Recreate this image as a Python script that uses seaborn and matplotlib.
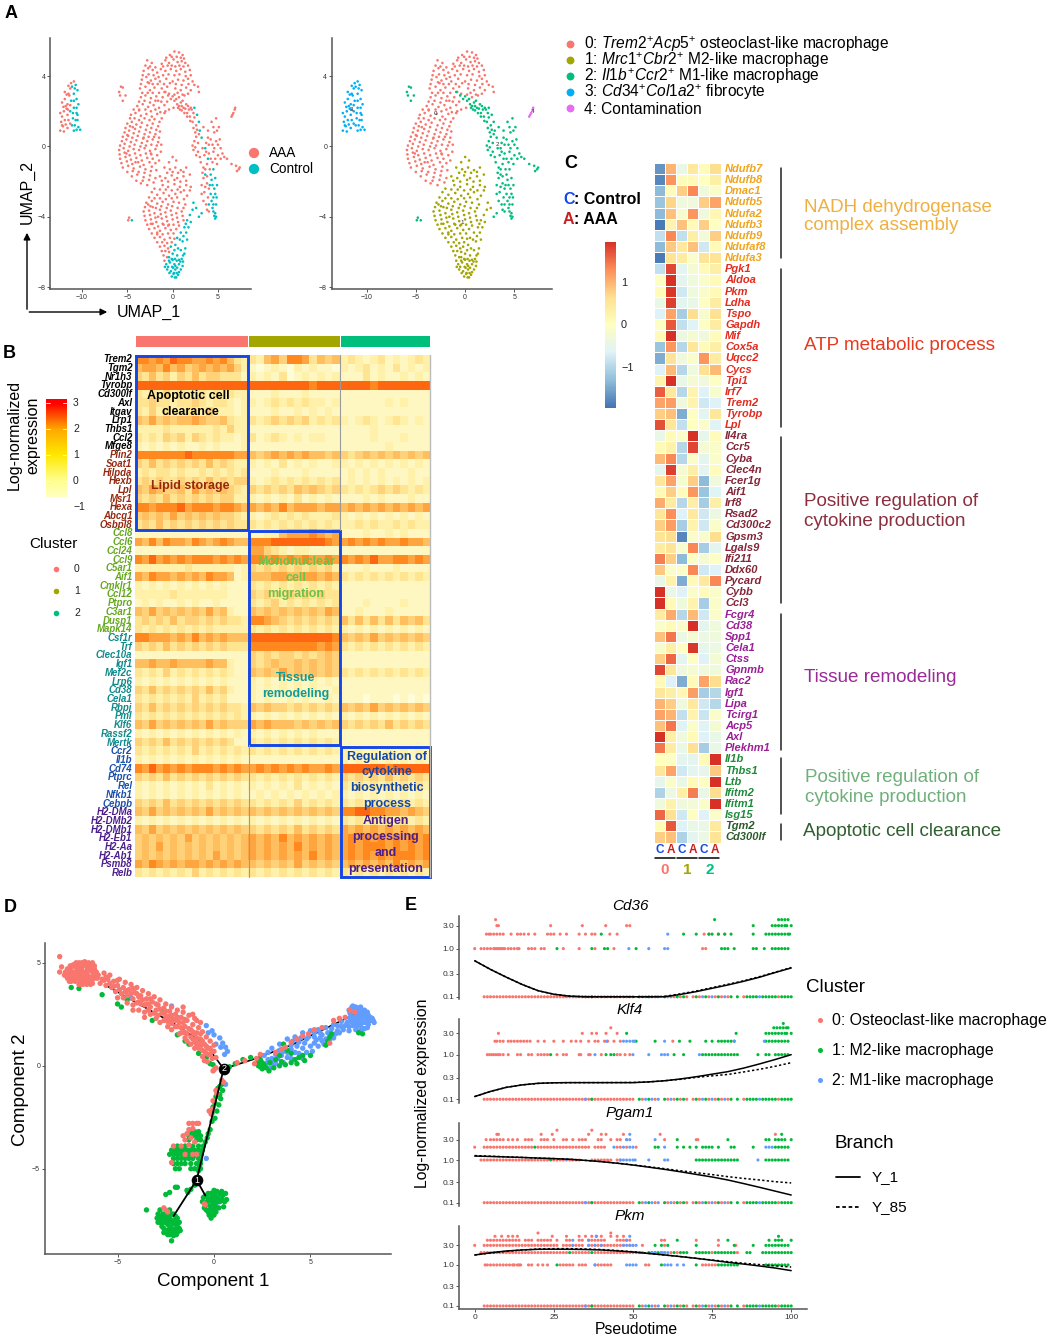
import numpy as np
import pandas as pd
import matplotlib
matplotlib.use("Agg")
import matplotlib.pyplot as plt
import seaborn as sns
from matplotlib.colors import LinearSegmentedColormap

# panel A
umap_c0 = [(-0.3,5.2),(0.2,5.4),(0.7,5.35),(1.1,5.2),(-1.2,4.7),(-0.8,4.9),(-0.4,4.75),(0.1,4.95),(0.55,4.8),(1.0,4.85),(1.4,4.75),(-2.8,4.9),(-2.3,4.75),
    (-3.2,4.3),(-2.7,4.45),(-2.2,4.35),(-1.7,4.2),(-1.3,4.4),(-0.8,4.3),(-0.2,4.4),(0.4,4.3),(0.9,4.4),(1.4,4.25),(1.9,4.35),
    (-3.4,3.8),(-2.9,3.95),(-2.4,3.75),(-1.9,3.85),(-1.4,3.7),(-0.7,3.85),(0.0,3.7),(0.6,3.8),(1.2,3.75),(1.7,3.85),(2.2,3.7),
    (-3.6,3.3),(-3.0,3.4),(-2.5,3.2),(-2.0,3.35),(-1.2,3.3),(-0.6,3.4),(0.3,3.3),(0.9,3.2),(1.5,3.35),(2.0,3.2),(2.8,3.4),(2.9,3.1),
    (-3.5,2.8),(-3.0,2.9),(-2.4,2.75),(-1.8,2.85),(-1.1,2.8),(-0.4,3.0),(0.2,2.95),(-3.9,2.3),(-3.3,2.4),(-2.7,2.25),(-2.1,2.35),(-1.5,2.2),(-0.9,2.35),(-0.4,2.1),(0.1,2.2),
    (-4.6,1.8),(-4.1,1.9),(-3.5,1.75),(-2.9,1.85),(-2.3,1.7),(-1.7,1.85),(-1.2,1.6),(-5,1.3),(-4.5,1.4),(-4,1.25),(-3.4,1.35),(-2.8,1.2),(-2.2,1.3),(-1.6,1.15),
    (-5.3,.8),(-4.8,.9),(-4.3,.75),(-3.7,.85),(-3.1,.7),(-2.5,.8),(-1.9,.7),(-1.4,.85),(-5.6,.3),(-5.1,.4),(-4.6,.25),(-4,.35),(-3.4,.2),(-2.8,.3),(-2.2,.4),(-1.6,.25),
    (-5.9,-.2),(-5.4,-.1),(-4.9,-.25),(-4.3,-.15),(-3.7,-.2),(-3.1,-.1),(-2.5,-.25),(-1.9,-.15),(-1.3,-.3),(-5.8,-.7),(-5.2,-.6),(-4.6,-.75),(-4,-.65),(-3.4,-.8),(-2.8,-.65),(-2.2,-.7),(-1.5,-.8),
    (-5.5,-1.2),(-4.9,-1.1),(-4.3,-1.25),(-3.6,-1.15),(-3,-1.3),(-2.3,-1.15),(-4.5,-1.7),(-3.9,-1.6),(-3.2,-1.75),(-2.5,-1.65),(-1.9,-1.8),(-3.5,-2.1),(-2.8,-2.2),(-2.1,-2.05),
    (-5.1,-.4),(-4.1,-.9),(-3.2,.5),(-4.4,1.1),(-3.7,2.1),(-2.6,3.6),(-1.6,2.6),(-0.9,1.9),(0.7,2.8),(1.3,2.9),(-4.9,.6),(-2.4,-.4),
    (-.7,5.05),(-.1,5.1),(.45,5.1),(.9,5.05),(1.25,5.0),(-3,4.6),(-2.5,4.55),(-1.9,4.5),(-1.05,4.55),(-.55,4.6),(-.1,4.6),(.3,4.55),(.75,4.6),(1.2,4.55),(1.7,4.6),
    (-3.3,4.05),(-2.65,4.1),(-2.1,4.05),(-1.55,3.95),(-1.05,4.05),(-.45,4.1),(.2,4.05),(.75,4.1),(1.45,4),(2.0,4.05),(-3.5,3.55),(-2.75,3.65),(-2.2,3.55),(-1.65,3.55),(-.95,3.55),(-.3,3.6),(.35,3.55),(1.0,3.5),(1.75,3.55),(2.4,3.5),
    (-3.35,3.05),(-2.75,3.05),(-2.2,3.05),(-1.5,3.05),(-.8,3.1),(.55,3.05),(1.1,2.95),(1.7,3.0),(-3.7,2.55),(-3.1,2.6),(-2.5,2.5),(-1.9,2.6),(-1.25,2.55),(-.6,2.55),
    (-4.3,2.1),(-3.7,2.05),(-3.0,2.1),(-2.4,2.0),(-1.9,2.1),(-1.35,1.95),(-.8,2.0),(-4.7,1.6),(-4.2,1.6),(-3.7,1.5),(-3.1,1.6),(-2.55,1.5),(-2,1.55),(-1.45,1.4),
    (-5.2,1.05),(-4.7,1.15),(-4.15,1),(-3.55,1.1),(-2.95,.95),(-2.35,1.05),(-1.8,.95),(-5.5,.55),(-5,.65),(-4.45,.5),(-3.85,.6),(-3.25,.45),(-2.65,.55),(-2.05,.55),(-1.5,.5),
    (-5.8,.05),(-5.3,.15),(-4.75,0),(-4.2,.1),(-3.55,0),(-2.95,.05),(-2.35,.1),(-1.75,.05),(-1.25,.1),(-5.85,-.45),(-5.3,-.35),(-4.75,-.5),(-4.15,-.4),(-3.55,-.5),(-2.95,-.4),(-2.35,-.45),(-1.7,-.5),
    (-5.65,-.95),(-5.05,-.85),(-4.45,-1),(-3.8,-.9),(-3.2,-1.05),(-2.55,-.9),(-1.9,-.95),(-5,-1.45),(-4.4,-1.4),(-3.75,-1.45),(-3.1,-1.5),(-2.4,-1.4),(-1.8,-1.35),(-4,-1.95),(-3.3,-1.95),(-2.6,-1.9)]
umap_c1 = [(0,-.6),(.4,-.8),(-.4,-.9),(-.9,-1.2),(-.3,-1.3),(.3,-1.2),(.9,-1.35),(1.5,-1.2),(-1.4,-1.7),(-.8,-1.8),(-.1,-1.65),(.5,-1.8),(1.2,-1.7),(1.9,-1.6),
    (-1.1,-2.2),(-.5,-2.3),(.2,-2.15),(.8,-2.3),(1.5,-2.2),(2,-2.3),(-2.3,-2.6),(-1.7,-2.75),(-1,-2.65),(-.4,-2.8),(.3,-2.7),(.9,-2.6),(1.6,-2.8),
    (-2.9,-3.2),(-2.3,-3.1),(-1.7,-3.25),(-1.1,-3.15),(-.5,-3.3),(.1,-3.15),(.7,-3.2),(1.4,-3.3),(-3.2,-3.7),(-2.6,-3.65),(-2,-3.8),(-1.4,-3.6),(-.8,-3.75),(-.2,-3.65),(.4,-3.8),(1,-3.7),
    (-3,-4.2),(-2.4,-4.15),(-1.8,-4.3),(-1.2,-4.1),(-.6,-4.25),(0,-4.15),(.6,-4.3),(1.2,-4.2),(-2.6,-4.7),(-2,-4.65),(-1.4,-4.8),(-.8,-4.65),(-.2,-4.75),(.4,-4.7),
    (-2,-5.2),(-1.4,-5.15),(-.9,-5.3),(-.3,-5.2),(.2,-5.25),(-1.4,-5.7),(-.9,-5.65),(-.5,-5.8),(-1,-6.2),(-.6,-6.3),(-2.7,-3.3),(-2.2,-3.45),(-1.6,-4.0),(-1.0,-4.45),(-.4,-4.45),(-1.7,-5.0),(-2.4,-4.4),
    (-.6,-1.5),(0,-1.45),(.6,-1.5),(1.2,-1.45),(-1.2,-1.95),(-.5,-2),(.2,-1.9),(.85,-2),(1.5,-1.95),(-2,-2.4),(-1.4,-2.45),(-.75,-2.45),(-.1,-2.5),(.55,-2.45),(1.25,-2.5),(1.9,-2.5),
    (-2.6,-2.9),(-2,-2.95),(-1.4,-2.95),(-.75,-3),(-.1,-2.95),(.5,-2.9),(1.25,-3),(-3.05,-3.45),(-2.45,-3.4),(-1.85,-3.5),(-1.25,-3.4),(-.65,-3.5),(-.05,-3.4),(.55,-3.5),(1.2,-3.5),
    (-3.1,-3.95),(-2.5,-3.9),(-1.9,-4.05),(-1.3,-3.85),(-.7,-4),(-.1,-3.9),(.5,-4.05),(1.1,-3.95),(-2.8,-4.45),(-2.2,-4.4),(-1.6,-4.55),(-1.1,-4.4),(-.5,-4.5),(.1,-4.45),(.7,-4.5),
    (-2.3,-4.95),(-1.7,-4.9),(-1.1,-5),(-.5,-4.95),(.1,-4.95),(-1.7,-5.45),(-1.15,-5.45),(-.6,-5.5),(-.1,-5.45),(-1.2,-5.95),(-.8,-5.95),(-.4,-6),(-.9,-6.5)]
umap_c1_ctrl = [(1.6,-4.2),(1.9,-3.9),(1.3,-4.6),(.9,-4.9),(1.5,-4.9),(.5,-5.2),(1.1,-5.4),(1.6,-5.3),(-.2,-5.7),(.3,-5.6),(.9,-5.9),(1.4,-5.8),(-.4,-6.3),(0,-6.1),(.5,-6.2),(1,-6.4),(1.3,-6.1),
    (-.7,-6.7),(-.3,-6.6),(.2,-6.7),(.7,-6.7),(1.1,-6.8),(-.6,-7.0),(-.2,-7.1),(.3,-7.0),(.7,-7.15),(-.1,-7.4),(.4,-7.45),(.6,-7.3),(2.3,-3.2),(2.6,-3.5),(0,-6.45),(.45,-6.5),(.85,-6.55),(-.05,-6.85),(.5,-6.9),(.1,-7.25),
    (.2,-5.9),(.6,-5.8),(1.15,-6.2),(-.5,-6.85),(-.1,-6.4),(.25,-6.4),(.7,-6.45),(1.15,-6.55),(-.4,-6.5),(.05,-6.9),(.3,-6.8),(.9,-7),(.45,-7.2),(.15,-7.2),(-.35,-7.2),(.25,-7.45),(-.85,-6.85),(1.45,-4.4),(1.75,-4.6),(2,-4.3),(2.2,-3.6),(1.2,-5.1),(.8,-5.3)]
umap_c2 = [(-.9,3.1),(-.5,2.9),(-.2,2.7),(.2,2.6),(.5,2.4),(.9,2.5),(1.2,2.2),(1.5,2.4),(1.8,2.1),(.8,2.1),(1.3,1.9),(1.9,1.7),(2.3,1.9),(2.2,1.4),(2.6,1.2),(2.5,.8),(2.9,.7),(2.4,.3),(2.8,.2),(2.3,-.2),(2.8,-.3),(3.3,-.1),
    (3.9,.9),(4.3,1.4),(4.8,1.6),(5.1,1.1),(4.6,.8),(3.4,1.1),(4.2,.4),(4.8,.3),(3.7,.2),(5.2,.4),(3.5,-.5),(4,-.4),(4.5,-.3),(5,-.5),(5.5,-.4),(6,-.7),(6.5,-1),(7,-1.1),(7.3,-1.3),(7.4,-1.2),(7.1,-1.4),(3.8,-1),(4.4,-.9),(4.9,-1),
    (-5.9,3.1),(-5.7,3.4),(-5.5,3.35),(-5.8,2.9),(-5.5,2.6),(-5.2,2.9),(3.4,-1.8),(3.8,-2.1),(3.5,-2.6),(3.9,-2.9),(3.7,-3.3),(3.2,-2.2),(4.0,-3.7),(-4.9,-4.2),(-4.8,-4.05),(1.6,1.9),(2.0,2.2),(1.0,2.3),(3.1,-.9),(4.1,-1.3),
    (0,2.85),(.4,2.7),(.7,2.3),(1.1,2.6),(1.4,2.15),(1.7,2.3),(2.1,2.1),(.6,2.2),(1.0,2.05),(1.6,1.7),(1.95,1.45),(2.4,1.65),(2.3,1.05),(2.7,.95),(2.6,.55),(2.2,.05),(2.5,-.05),(2.6,-.5),(3,-.6),(3.9,.5),(4.5,1.1),(4.9,.9),(4.4,.1),(4,.1),(4.6,-.1),(5,.1),(5.3,-.1),(3.7,-.3),(4.2,-.7),(4.7,-.7),(3.4,-1.2),(3.6,-1.3),(5.3,-.7),(5.7,-.6),(3.2,-2.7),(3.4,-3.1),(3.6,-2.3),(3.8,-1.7),(4.0,-2.4),(3.8,-3.6),(3.3,-1.5)]
umap_c2_ctrl = [(2.4,2.2),(2.7,1.8),(2.9,1.4),(3.0,.9),(3.2,.5),(3.6,-.1),(3.9,-.7),(4.5,-1.3),(4.7,-1.8),(4.2,-1.6),(3.6,-1.6),(4.4,-2.2),(4.9,-2.2),(4.2,-2.7),(4.7,-2.7),(4.3,-3.1),(4.8,-3.3),(4.4,-3.5),(4.7,-3.8),(4.6,-3.95),(4.8,-4),(3.2,-3.8),(2.9,-4),(-4.5,-4.2),
    (4.3,-1.9),(4.6,-2.4),(4.0,-3.3),(4.5,-2.9),(4.5,-3.3),(4.1,-2.2),(4.85,-2.9),(4.5,-3.7),(4.7,-4.1)]
umap_c3 = [(-12.4,.9),(-12,.85),(-11.6,1.05),(-12.3,1.4),(-11.9,1.5),(-12.4,1.9),(-12,2),(-11.6,1.8),(-12.2,2.5),(-11.9,2.7),(-11.6,2.4),(-11.9,3.1),(-11.5,3),(-11.5,3.45),(-11.2,3.6),(-10.9,3.7),(-11.3,1.3),(-11.4,2.9),(-12.1,1.15),(-11.7,2.15),
    (-12.2,1.2),(-11.8,1.25),(-12.2,1.7),(-11.8,2.3),(-12.05,2.25),(-11.7,2.95),(-11.5,1.5),(-11.55,2.1),(-11.3,2.35),(-11.3,3.3)]
umap_c3_ctrl = [(-11.1,3.4),(-10.7,3.5),(-10.5,3.2),(-10.9,3),(-10.6,2.7),(-11.2,2.6),(-10.4,2.4),(-10.9,2.2),(-11.3,2),(-10.6,1.9),(-11,1.6),(-10.5,1.5),(-10.8,1.2),(-10.4,1.1),(-10.2,.95),(-10.9,.9),
    (-10.9,2.6),(-10.6,2.2),(-11,1.9),(-10.7,1.5),(-10.5,1.8),(-10.8,3.3),(-11.1,1.2),(-10.6,.95)]
umap_c4 = [(6.5,1.7),(6.7,1.9),(6.85,2.1),(6.9,2.2),(6.6,1.8)]
cluster_names_a = [r"0: $\mathit{Trem2}^{+}\mathit{Acp5}^{+}$ osteoclast-like macrophage",
                   r"1: $\mathit{Mrc1}^{+}\mathit{Cbr2}^{+}$ M2-like macrophage",
                   r"2: $\mathit{Il1b}^{+}\mathit{Ccr2}^{+}$ M1-like macrophage",
                   r"3: $\mathit{Cd34}^{+}\mathit{Col1a2}^{+}$ fibrocyte",
                   "4: Contamination"]

# panel B, one digit = expression level, groups are clusters 0 / 1 / 2
genes_b = ["Trem2","Tgm2","Nr1h3","Tyrobp","Cd300lf","Axl","Itgav","Lrp1","Thbs1","Ccl2","Mfge8",
    "Plin2","Soat1","Hilpda","Hexb","Lpl","Msr1","Hexa","Abcg1","Osbpl8",
    "Ccl8","Ccl6","Ccl24","Ccl9","C5ar1","Aif1","Cmklr1","Ccl12","Ptpro","C3ar1","Dusp1","Mapk14",
    "Csf1r","Trf","Clec10a","Igf1","Mef2c","Lrp6","Cd38","Cela1","Rbpj","Pml","Klf6","Rassf2","Mertk",
    "Ccr2","Il1b","Cd74","Ptprc","Rel","Nfkb1","Cebpb",
    "H2-DMa","H2-DMb2","H2-DMb1","H2-Eb1","H2-Aa","H2-Ab1","Psmb8","Relb"]
levels_b = ["7767687766767532 325647763545 232123121232","5665756456565642 101210212110 212312131212","4353424353443331 212130121212 111312112121",
    "8888888888888888 888888887888 888878888888","3232423223232322 111211121111 111111111111","3343323343233212 212323232212 111111212111",
    "3242322332422212 111211212121 111111111111","5464545565445322 323434342323 212321232121","2222322222232422 111111111111 111121111111",
    "3232434243232212 312321212211 111121112111","2121212112121112 111111111111 111111211111","7777777877777766 545656565545 434545454545",
    "4353434343534322 212131212112 212121212121","2323323223232323 111211121111 121212111211","3434334343534344 212323232323 121212121212",
    "5465445364545432 434343545434 323234343232","4343534343434422 212121312121 111212111211","7767778677767765 656575666566 565656565656",
    "4545464545454432 212323232223 212121212121","3435343434343433 323232323232 223232232322","1111111111111111 112256667656 111211212111",
    "6575766576567655 777888888876 676767667665","1111111111111111 664321221111 111111111111","7686767677767676 776767676676 767686677676",
    "2222222322222212 434343434342 111211121111","6576656565766512 555665566565 323232323232","2121212121212111 323232323232 111111111111",
    "2222232222222111 434334343433 111111111111","1212112121121111 323423232323 111211112111","5464545454645211 545454545465 112111211111",
    "3434353443434332 776543434343 535353535453","3232323232322222 323232323232 212121212121","7766656575656555 888888888887 545464545454",
    "4343534343434333 777777777676 323232323232","1111111111111111 434344343454 111111111111","5565565555655211 434544545454 111111111111",
    "3232423232323211 545464545454 323232323232","2121212121212111 212121212121 111111111111","4353434343534211 212121212112 111111111111",
    "3232323242323111 212112121121 111011101010","4353434343434332 545443434343 545464545454","3232323232323232 212121212121 212121212121",
    "5464545454645444 656555454545 434343534343","2121212121212121 212121212111 111111111111","4343534343434311 323232323232 111111111111",
    "3232323242323232 323232323232 212121212121","2121212121212121 111111111111 212121212121","7686767677767676 676767676676 888888788888",
    "4343534343434343 323232323232 434343534343","2121212121312121 212121312121 323232323232","2121212121212121 121212121212 212121212121",
    "4343534343434343 323232423232 323232323232","5464545454645454 545454545454 778877665654","2121212121212121 212121212121 323232323232",
    "5464545454545454 434343534343 656565656565","4545454645454545 656575656565 676767676767","4546454545454545 656565756565 676777676767",
    "4545454545464545 656565657565 676767677767","6576565665656565 545454645454 565656575656","3232323242323232 323232323232 323232323232"]

# panel C
genes_c = ["Ndufb7","Ndufb8","Dmac1","Ndufb5","Ndufa2","Ndufb3","Ndufb9","Ndufaf8","Ndufa3",
    "Pgk1","Aldoa","Pkm","Ldha","Tspo","Gapdh","Mif","Cox5a","Uqcc2","Cycs","Tpi1","Irf7","Trem2","Tyrobp","Lpl",
    "Il4ra","Ccr5","Cyba","Clec4n","Fcer1g","Aif1","Irf8","Rsad2","Cd300c2","Gpsm3","Lgals9","Ifi211","Ddx60","Pycard","Cybb","Ccl3",
    "Fcgr4","Cd38","Spp1","Cela1","Ctss","Gpnmb","Rac2","Igf1","Lipa","Tcirg1","Acp5","Axl","Plekhm1",
    "Il1b","Thbs1","Ltb","Ifitm2","Ifitm1","Isg15","Tgm2","Cd300lf"]
group_sizes_c = [9, 15, 16, 13, 6, 2]
group_colors_c = ["#EFA51F", "#E32B1F", "#842637", "#9A1F96", "#1F8B3A", "#2A5A2A"]
values_c = [[-1.5,.9,-.4,.4,.05,.6],[-1.6,1.1,.05,.1,0,.3],[-1.2,.05,.7,1.2,-.3,-.1],[-1.1,.65,-.3,-.3,.7,1.0],[-1.2,.8,-.15,1.1,-.3,.15],[-1.7,.2,.8,.1,.7,-.05],
    [-.8,1.2,-.8,.3,-.25,.7],[-1.2,.75,.4,.8,-.7,.1],[-1.7,.5,.35,-.1,.5,.5],[-.8,1.6,-.5,-.2,.1,.3],[-.05,1.8,-.5,-.3,-.1,.1],[.05,1.7,-.7,-.3,-.1,.1],
    [-.4,1.65,-.5,-.4,-.05,.35],[-.6,1.0,-1.0,.6,-.15,.55],[-.05,1.5,-.8,-.55,-.05,.35],[.1,1.8,-.35,-.2,-.3,.05],[-1.1,1.1,-.9,.45,.1,.3],[-1.3,.5,-.3,-.1,1.1,.35],
    [-.6,.85,-.9,-.3,.55,.85],[.2,1.85,-.4,-.2,-.3,-.05],[1.45,.4,-.9,.2,-.6,-.15],[1.0,1.05,-.3,.2,-.7,-.6],[.7,.8,-1.3,-.05,-.5,.45],[1.55,.45,-.8,0,-.1,-.55],
    [-.4,.1,-.1,1.9,-.45,.05],[.1,.25,-.9,1.6,-.2,-.1],[.85,1.2,-.9,-.1,-.5,-.1],[-.5,1.65,-.2,.3,-.5,.05],[.45,1.0,-.15,.7,-1.2,-.3],[.1,.7,.05,1.1,-1.1,-.55],
    [.95,.35,-.9,.3,-1.0,.3],[.45,1.15,-.6,.4,-.7,-.35],[.7,1.05,-1.0,.2,-.7,-.1],[.5,.6,-1.6,-.1,-.15,.6],[.35,.5,-.15,1.2,-1.0,-.5],[1.25,.7,-1.2,-.05,-.2,-.05],
    [.75,-.1,-.1,1.2,-.7,-.6],[-.4,.25,-1.3,.1,.4,1.2],[1.9,-.4,-.6,-.1,.05,-.1],[1.75,.1,-.3,.2,-1.0,-.1],[.35,.95,-.9,.85,-.7,-.1],[-.1,.1,-.1,1.9,-.5,-.3],
    [.8,1.3,-.35,-.2,-.35,-.3],[-.15,.3,-.05,1.7,-.45,-.35],[.7,1.4,-.5,-.05,-.6,-.2],[1.6,.45,-.3,-.2,-.3,-.3],[.1,-.6,-1.3,.1,1.0,.6],[.45,.3,.15,1.05,-1.0,-.9],
    [.9,.7,-.3,.4,-.7,-.9],[1.0,.9,-.8,.2,-.75,-.1],[.8,1.3,-.55,-.1,-.55,-.2],[1.8,.3,-.3,.1,-.6,-.4],[1.3,.35,-.4,.55,-1.0,-.4],[0,-.05,-.5,-.5,.1,1.8],
    [.45,1.0,-.7,-.5,-.45,.75],[-.45,-.1,-.4,.1,-.05,1.85],[-.95,-.35,.3,1.25,-.4,.6],[-.3,.25,-.3,-.25,-.1,1.85],[1.4,.55,-.7,-.05,-.6,-.1],[.1,1.5,-.6,-.4,-.4,.4],[.7,.8,-.95,-.5,-.35,.5]]

# panel D
traj_red = [(-7.7,4.4),(-7.6,4.7),(-7.5,4.1),(-7.4,4.5),(-7.3,4.9),(-7.2,4.2),(-7.1,4.6),(-7.0,5.0),(-6.95,3.95),(-6.9,4.35),(-6.85,4.75),(-6.7,5.05),(-6.7,4.1),(-6.65,4.5),(-6.6,4.85),(-6.45,4.3),(-6.4,4.7),(-6.3,5.0),(-6.3,4.0),
    (-7.35,4.3),(-6.75,4.3),(-7.05,4.4),(-7.2,4.8),(-6.85,4.55),(-6.55,4.6),(-7.5,4.55),(-6.2,4.6),(-6.2,4.25),(-8.0,5.3),(-8.0,4.55),(-7.9,4.8),
    (-7.0,3.95),(-6.8,3.95),(-6.6,3.95),(-6.4,3.95),(-7.4,4.1),(-7.2,4.1),(-6.95,4.1),(-6.55,4.1),(-6.35,4.1),(-7.6,4.25),(-7.4,4.25),(-7,4.25),(-6.85,4.25),(-6.6,4.25),(-6.35,4.25),(-6.05,4.25),
    (-7.75,4.4),(-7.55,4.4),(-7.25,4.4),(-6.55,4.4),(-6.25,4.4),(-6.05,4.4),(-7.7,4.55),(-7.3,4.55),(-7,4.55),(-6.7,4.55),(-6.3,4.55),(-6.1,4.55),(-7.45,4.7),(-7.05,4.7),(-6.9,4.7),(-6.55,4.7),(-6.2,4.7),
    (-7.45,4.85),(-7.05,4.85),(-6.8,4.85),(-6.45,4.85),(-6.2,4.85),(-7.15,5.0),(-6.85,5.0),(-6.5,5.0),
    (-6,4.4),(-5.9,4.0),(-5.8,4.2),(-5.7,4.5),(-5.6,3.9),(-5.5,4.2),(-5.4,4.4),(-5.3,3.8),(-5.2,4.1),(-5.1,3.6),(-5,3.9),(-4.9,4.2),(-4.8,3.5),(-4.7,3.8),(-4.6,4.05),(-4.5,3.4),(-4.4,3.7),(-4.3,3.95),(-4.2,3.25),(-4.1,3.55),(-4,3.8),
    (-3.9,3.1),(-3.8,3.4),(-3.7,3.65),(-3.6,2.95),(-3.5,3.25),(-3.4,3.5),(-3.3,2.85),(-3.2,3.1),(-3.1,3.35),(-3,2.7),(-2.9,2.95),(-2.8,3.2),(-2.7,2.55),(-2.6,2.8),(-2.5,3.0),(-2.4,2.4),(-2.3,2.65),(-2.2,2.85),(-2.1,2.25),(-2,2.5),(-1.9,2.7),
    (-1.8,2.1),(-1.7,2.35),(-1.6,2.6),(-1.5,1.9),(-1.4,2.2),(-1.3,2.45),(-1.2,1.75),(-1.1,2.0),(-1,2.3),(-.9,1.6),(-.8,1.85),(-.7,1.3),(-.6,1.65),(-.5,1.05),(-.4,1.4),(-.3,.85),(-.2,1.2),(-.1,.7),(0,1.0),
    (-5.7,4.15),(-5.2,3.85),(-4.5,3.65),(-4,3.5),(-3.5,3.0),(-3,3.0),(-2.5,2.65),(-2,2.2),(-1.5,2.25),(-1.5,1.6),(-1,1.55),(-1.2,1.4),(-.8,1.1),(-.3,.55),(-.1,.35),(.1,.4),(0,-.2),(.1,-.1),(-4.2,2.95),(-3.6,2.6),
    (-5.6,4.3),(-5.4,4.0),(-5,4.15),(-4.9,3.7),(-4.6,3.6),(-4.3,3.5),(-4.2,3.75),(-3.9,3.35),(-3.7,3.2),(-3.4,3.0),(-3.3,3.25),(-2.8,2.75),(-2.5,2.4),(-2.2,2.45),(-1.9,2.3),(-1.6,2.1),(-1.3,1.8),(-1.1,1.65),(-.9,1.35),(-.7,1.55),(-.6,1.2),(-.4,.95),(-.2,.85),(-1.4,1.55),(-.2,.55),(0,.7),(-3.8,3.0),(-3.1,2.55),(-2.4,2.15),(-2.2,2.05),(-1.7,1.85),(-1.9,1.9),(-.5,.7),(-.6,.75),(-1.6,2.85),(-1.1,2.5),(-.9,2.2),(-.7,2.1),
    (-5,3.3),(-4.5,3.05),(-4.2,2.7),(-3.9,2.7),(-3.6,2.35),(-3.3,2.5),(-3,2.3),(-2.8,2.1),(-2.6,2.2),(-2.4,1.9),(-2.2,1.75),(-2.0,1.9),(-1.8,1.55),(-1.6,1.65),(-1.4,1.2),(-1.2,1.05),(-1.0,1.15),(-.8,.85),(-1.0,.85),(-.6,.45),(-.4,.6),(-4.7,3.3),(-4.0,3.05),(-3.4,2.7),(-2.9,2.45),(-2.3,2.25),(-1.7,1.6),(-.5,.25),(-.35,.2),(-1.5,1.35),(-1.1,1.3),(-.9,1.05),(-.7,.95),
    (1.2,.15),(1.6,.25),(2.2,.35),(2.1,.1),(2.4,.55),(3.7,.9),(4,1.15),(4.3,1.3),(4.6,1.45),(4.9,1.55),(5.2,1.75),(5.6,1.85),(6.2,2.2),(6.5,2.3),(6.8,2.35),(7.05,2.7),(7.3,2.6),(3.2,.65),(3.5,.8),(6,1.1),
    (.1,-1.2),(.15,-1.35),(-.05,-1.7),(-.1,-2.1),(-.15,-2.35),(-.25,-2.2),(.4,-.7),(.5,-.8),(-.05,-.25),
    (-1.3,-2.8),(-1.1,-2.8),(-.9,-2.8),(-.8,-2.8),(-1.6,-3.4),(-1.5,-3.6),(-1.7,-3.9),(-1.3,-3.85),(-1.2,-3.5),(-1.4,-3.3),(-1.0,-3.7),(-1.5,-4.3),(-1.1,-4.3),(-.9,-4.3),(-2.1,-3.9),(-1.3,-3.1),(-1.1,-3.05),(-2.2,-4.7),
    (-2.6,-6.9),(-2.5,-7.0),(-2.4,-7.1),(-.5,-6.7),(-.45,-6.75)]
traj_green = [(-7.4,3.8),(-7,3.75),(-5.8,3.45),(-5,3),(-4.8,2.85),(-4.5,3.2),(-3.2,2.2),(-2.6,2.6),(-1.9,1.5),(-1.5,1.2),(-1.3,1.05),(-.8,.6),(-.4,.4),(-.2,.1),(-.05,.05),
    (2.3,.0),(2.4,.3),(2.5,-.15),(2.7,-.1),(2.9,.15),(3.2,.3),(3.4,.5),(3.6,1.05),(3.8,.75),(4,.6),(4.2,.3),(4.4,.4),(4.6,.5),(3.5,.2),(6,1.4),(5.9,1.2),(5.8,1.0),(6.1,1.55),(7.5,1.6),(7.7,1.55),(1.9,.4),(1.5,.3),(1.1,.1),(.8,-.05),
    (2.5,.15),(2.6,.05),(3.1,-.1),(3.4,.0),(3.7,.05),(4,.15),(4.3,.1),(4.7,.25),(5,.5),(2.3,.2),(2.4,-.05),(2.85,-.25),
    (.4,-.9),(.3,-1.0),(.2,-1.1),(.45,-1.2),(.3,-1.4),(.1,-1.5),(.35,-1.6),(.05,-1.8),(.25,-1.9),(-.05,-2.0),(.15,-2.2),(-.1,-2.3),(.05,-2.55),(-.1,-2.7),(-.2,-3.1),(-.3,-3.3),(-.35,-3.5),(-.45,-3.7),(-.55,-3.9),(-.6,-4.1),(-.65,-4.3),(-.7,-4.6),(-.75,-4.9),(-.8,-5.1),
    (-1.2,-3.2),(-1.0,-3.2),(-.8,-3.2),(-1.3,-3.4),(-1.1,-3.4),(-.9,-3.4),(-.7,-3.4),(-1.3,-3.6),(-.9,-3.6),(-.7,-3.6),(-1.9,-3.9),(-1.5,-3.9),(-1.1,-3.9),(-.8,-3.9),
    (-2.2,-4.1),(-2.0,-4.1),(-1.8,-4.1),(-1.6,-4.1),(-1.4,-4.1),(-1.2,-4.1),(-1.0,-4.1),(-.8,-4.1),(-2.3,-4.3),(-2.1,-4.3),(-1.9,-4.3),(-1.7,-4.3),(-1.3,-4.3),(-1.0,-4.35),
    (-2.1,-4.5),(-1.9,-4.5),(-1.7,-4.5),(-1.5,-4.5),(-1.3,-4.5),(-1.1,-4.5),(-.8,-4.5),(-2.1,-4.75),(-1.9,-4.75),(-1.7,-4.75),(-1.5,-4.75),(-1.2,-4.75),(-.9,-4.75),(-.7,-4.75),(-2.0,-5),(-1.8,-5),(-1.2,-5),(-1.0,-5),(-.7,-5),
    (-3.5,-7.0),(-2.9,-7.2),(-2.7,-7.4),(-2.9,-7.6),(-2.7,-7.8),(-2.5,-7.2),(-2.5,-7.6),(-2.5,-8.0),(-2.3,-7.0),(-2.3,-7.4),(-2.3,-7.8),(-2.3,-8.2),(-2.1,-7.2),(-2.1,-7.6),(-2.1,-8.0),(-1.9,-7.4),(-1.9,-7.8),(-1.9,-8.1),(-1.8,-7.6),(-2.2,-8.5),(-2.4,-7.5),(-2.0,-7.5),(-2.2,-7.9),(-2.6,-7.9),(-2.4,-8.2),(-2.8,-7.0),
    (-2.95,-7.4),(-2.8,-7.35),(-2.8,-7.6),(-2.65,-7.2),(-2.6,-7.6),(-2.4,-7.3),(-2.4,-7.7),(-2.4,-8),(-2.2,-7.2),(-2.2,-7.5),(-2.2,-7.7),(-2.2,-8.1),(-2,-7.3),(-2,-7.7),(-2,-7.95),(-1.85,-7.6),(-2.6,-7.4),(-2.6,-8.1),(-2.1,-8.25),(-2.3,-7.6),(-1.8,-7.9),(-1.75,-8.0),(-2.05,-8.15),(-1.95,-8.2),(-2.5,-7.4),
    (-2.5,-6.25),(-2.3,-6.15),(-2.0,-5.9),(-1.9,-5.9),(-1.4,-6.05),(-1.35,-6.15),(-1.2,-6.0),(-1.0,-5.8),
    (-.6,-6.6),(-.5,-6.9),(-.45,-6.3),(-.35,-6.6),(-.3,-7.1),(-.3,-6.2),(-.2,-6.8),(-.15,-7.4),(-.1,-6.4),(-.05,-7.0),(0,-6.7),(.05,-6.3),(.1,-7.1),(.15,-6.6),(.25,-6.9),(.3,-6.2),(.4,-6.5),(.55,-6.6),(.6,-6.2),(-.25,-7.25),(.0,-6.05),
    (-.55,-6.4),(-.4,-6.75),(-.4,-7),(-.2,-6.5),(-.2,-7),(-.15,-6.2),(-.1,-6.6),(0,-6.95),(.05,-6.5),(.1,-6.85),(.2,-6.4),(.3,-6.6),(.45,-6.3),(-.3,-6.45),(0,-7.25),(.4,-6.1),(.15,-6.1),(-.1,-7.15),(.65,-6.5),(.5,-6.85)]
traj_blue = [(-.3,1.6),(.0,1.5),(.3,1.35),(.45,1.1),(.6,.9),(.7,.7),(.55,.55),(.35,.9),(.1,1.05),(-.4,1.95),(-.1,1.7),(-2.2,2.9),(-1.9,2.35),(-4.3,3.3),(-7.1,4.6),
    (7.0,2.7),(7.2,2.9),(7.1,2.4),(7.3,2.6),(7.4,2.2),(7.5,2.8),(7.6,2.5),(7.6,2.0),(7.7,2.3),(7.8,2.7),(7.9,2.1),(8,2.45),(8.1,2.2),(8.2,2.3),(7.3,2.0),(7.8,1.8),(7.5,1.65),(8.3,2.1),(7.35,1.75),(7.95,2.6),(7.1,2.15),(7.45,2.45),
    (7.05,2.55),(7.2,2.7),(7.35,2.85),(7.6,2.85),(7.7,2.65),(7.45,2.6),(7.25,2.35),(7.5,2.3),(7.8,2.45),(7.95,2.3),(8.1,2.35),(7.3,2.15),(7.55,2.15),(7.75,2.1),(8,2),(7.45,1.95),(7.7,1.8),(7.6,1.75),(7.95,1.85),(7.2,1.95),(7.05,2.3),(8.25,2.2),(7.15,2.85),(7.4,2.7),(7.9,2.5),
    (6.9,2.1),(6.6,1.9),(6.4,1.7),(6.2,2.0),(6.0,1.6),(5.8,1.85),(5.6,1.5),(5.4,1.75),(5.2,1.4),(5,1.7),(4.8,1.3),(4.6,1.6),(4.4,1.15),(4.2,1.4),(4,1.0),(3.8,1.3),(3.6,.7),(3.4,1.05),(3.2,.55),(3,.85),(2.8,.3),(2.6,.5),(5.8,1.3),(5.2,1.1),(4.6,.85),(4.2,.65),(3.8,.4),(3.2,.1),(2.5,-.1),(2.9,-.1),(7.0,1.9),
    (2.7,.1),(3,.35),(3.1,.05),(3.3,.35),(3.5,.5),(3.6,.15),(3.8,.65),(4,.35),(4.0,.8),(4.1,1.2),(4.3,.95),(4.4,.6),(4.5,1.35),(4.6,.35),(4.7,1.1),(4.8,.65),(4.9,1.4),(5,.95),(5.1,.7),(5.2,1.6),(5.3,1.25),(5.4,.95),(5.5,1.6),(5.6,1.2),(5.7,1.05),(5.9,1.6),(6.0,1.3),(6.1,1.8),(6.3,1.55),(6.4,1.95),(6.5,1.6),(6.6,2.15),(6.7,1.75),(6.8,1.95),(7,1.7),(6.2,1.35),(5.5,1.35),(3.4,.75),(2.8,.65),(3,.2),
    (.1,-6.7),(.2,-6.6),(-.05,-6.9),(.6,-.9),(-.4,-4.5)]
tree_upper = [(.5,-.15),(-.4,1.0),(-2,2.0),(-5.6,3.9)]
tree_right = [(.5,-.15),(2,.3),(4,1.0),(7.3,2.5)]
tree_lower = [(.5,-.15),(-.9,-5.55),(-2.1,-7.3)]
tree_stub = [(-.9,-5.55),(-.45,-6.3)]
tree_nodes = [(-.9,-5.55,"1"),(.5,-.15,"2")]

# panel E, expression rows as (level, cluster, pseudotime positions)
zero_red = [3,4,5,6,7,8,9,10,11,12,13,14,15,16,17,18,19,20,21,22,23,24,25,26,27,28,29,30,31,32,33,34,35,36,37,38,39,40,41,42,43,44,45,46,47,48,49,50,53,57,61,63,65,67,69,71,74,76,78,80,85,96]
zero_green = [37,52,55,60,64,66,70,73,77,81,83,86,87,88,89,91,92,93,94,95,97,98,99,100]
zero_blue = [35,54,56,58,62,72,75,79,90]
rows_cd36 = [
    (1,0,[0,2,3,4,5,6,6.5,7,7.5,8,8.5,9,9.5,10.6,11.5,12.5,13.5,14,17,18,19,21,22,28,33,38,44,72,73]),
    (1,1,[26,37,41,42,51,78,79,80,82,88,89,91.5,94,95,96,97,98,99]),
    (1,2,[48.7,55,60,61]),
    (2,0,[3.7,4.5,5,6,7,8,9,11.5,13.5,14.5,15.6,17,19,23,24,25,27,29,33,35,37,38,42.7,45,72.5,74,77,79]),
    (2,1,[40,66,70,74,75,77,79,81,88,92,93,94,95,96,97,98,99,99.5]),
    (2,2,[61]),
    (3,0,[7,7.5,24,34,41.4,48,49]),
    (3,1,[88,94,95,96,97,98,98.6,100]),
    (4,0,[6.6]),
    (4,1,[75.8,96,97,98,99])]
rows_klf4 = [
    (1,0,[4,4.7,5.4,6,6.7,7.4,8,9,10.6,13.5,14.5,17,18,20,21,22,23,26,28,29,33,33.5,36,36.5,40,45,46,47.5,49]),
    (1,1,[24,41.5,43,44,63,66,72,73,74,75,76,77,78,79,80,81,82,83,89.5,92,93,95,96,97,98,99]),
    (1,2,[38,50,55,59,60,61,71]),
    (2,0,[6.4,7,8,9,10.6,11.5,12.5,13.5,14.5,15.5,16.5,17.5,20,22,25,28,30.5,32,33.5,36,38,39,41,42,44,46,62.6]),
    (2,1,[51,57,64.7,68,73,75,77,78,79,80,81,82,92,93,94,95,96,97,98,99]),
    (2,2,[41.7,47,48,49,50,50.5,60,82,91.5]),
    (3,0,[7.5,34,37,38.5,41.5,45]),
    (3,1,[48,82.6,92,93,94,95,96,97,98,98.6,100]),
    (4,0,[43]),
    (4,1,[94.5,95.5,96.5,97.5,98.5,99]),
    (5,1,[97.5])]
rows_pgam1 = [
    (1,0,[2,3,4,5,6,7,8,9,10,11,12,13,14,15,16,17,18,19,20,21,22,23,25,26,27,28,30,31,32,33,37,38,39,40,41,42,43,45,46]),
    (1,1,[24,70,71,72,73,74,75,76,77,78,79,80,81,82,83,92,93,94,95,96,97,98,99]),
    (1,2,[29,46,47,48,49,50,50.7,55,60,61,89.5]),
    (2,0,[0,3,4,5,6,7,8,9,10,11,12,13,14,15,16,17,18,20,21,22,23,24,25,26,27,28,29,30,31,32,33,34,35,36,38,39,40,41,45,46,48,51]),
    (2,1,[19,57,58,64,66,68,70,72,73,74,75,77,81,82,88,95,96,97,98,99]),
    (2,2,[44,47,49,50,60,92,93,94]),
    (3,0,[3.6,5,6,7,8,9,10.6,12,13.5,16,17,18,21,22,23,25,28,29,31,33,34,35,39,40,43,45,46,48,60,70,70.5]),
    (3,1,[64,80,92,93,95,96,97,98,100]),
    (3,2,[48,49,57]),
    (4,0,[7,7.5,21,24.5,36,40,41.5,47,58.6,95]),
    (4,1,[97]),
    (4,2,[49]),
    (5,0,[26,37])]
rows_pkm = [
    (1,0,[3.3,4,5,6,7,8,9,10,11,12,12.5,13.5,14,14.5,17,18,20,21.5,23,27,28,29,30,31,33,34,35,38,39,40,41,42,43,54,55,72,73,74,75,76]),
    (1,1,[26,59,70,77,78,79,80,81,82,83,92,93,94,95,96,97,98,99]),
    (1,2,[38,48,49,50,51,60,61,62,64,66]),
    (2,0,[2,3,4,5,6,7,8,9,10,11,12,13,14,15,16,17,18,19,20,21,22,23,24,25,26,27,28,29,31,32,33,34,35,36,38,39,40,41,42,43,44,45,46,47,48,49,50,51,52,53,60,62,64,75,83]),
    (2,1,[30,37,55,56,57,58,59,63,65,66,67,70,71,72,73,74,76,77,78,79,80,81,82,86,87,91,92,93,94,95,96,97,98,99,100]),
    (2,2,[56,57,59,60,61]),
    (3,0,[0,3,4,5,6,7,8,9,10,11,12,13,14,15,16,17,18,19,20,21,22,23,24,25,26,28,29,30,31,32,33,34,36,37,38,39,40,41,42,43,44,45,46,47,49,50,53,60,77,82.5]),
    (3,1,[57,59,61,70,82,88,92,93,94,95,96,97,98,99]),
    (3,2,[31,36,38,40,47,48,49,50,51]),
    (4,0,[4,5,6,7,8,9,10,11,12,13,14,16,17,18,20,21,22,23,24,26,29,30,33,34,36,37,38,39,40,41,45,46,47,48,49,59,60,70,77]),
    (4,1,[64,80,93,95,96,97,100]),
    (4,2,[31,36,48]),
    (5,0,[6.4,8.5,10.6,12,13.5,24.5,29,33,35,37,38.5,40,43,45,47]),
    (5,1,[96]),
    (5,2,[38.4,49]),
    (6,0,[20,43])]
curve_t = [0,5,10,15,20,25,30,35,40,45,50,55,60,65,70,75,80,85,90,95,100]
cd36_solid = [.56,.37,.255,.18,.134,.113,.103,.1,.1,.1,.1,.1,.1,.112,.128,.15,.176,.21,.255,.32,.397]
cd36_dash = [.56,.37,.255,.18,.134,.113,.103,.1,.1,.1,.1,.1,.102,.115,.132,.155,.182,.215,.262,.325,.405]
klf4_solid = [.115,.15,.185,.21,.228,.234,.236,.236,.236,.236,.236,.245,.26,.285,.32,.365,.416,.5,.62,.78,1.0]
klf4_dash = [.115,.15,.185,.21,.226,.234,.236,.236,.236,.237,.238,.245,.26,.28,.31,.335,.36,.41,.47,.55,.66]
pgam1_solid = [1.24,1.21,1.18,1.15,1.11,1.08,1.04,.98,.914,.84,.763,.68,.604,.53,.46,.4,.34,.28,.229,.186,.151]
pgam1_dash = [1.27,1.23,1.19,1.15,1.11,1.08,1.04,.98,.92,.845,.77,.695,.626,.56,.505,.455,.407,.37,.34,.31,.29]
pkm_solid = [1.75,1.98,2.19,2.32,2.41,2.42,2.41,2.38,2.32,2.2,2.07,1.9,1.75,1.6,1.45,1.3,1.16,1.05,.945,.84,.727]
pkm_dash = [1.75,1.95,2.15,2.32,2.45,2.5,2.5,2.45,2.38,2.25,2.1,1.92,1.75,1.6,1.45,1.32,1.2,1.1,1.02,.95,.89]

sns.set_style("white")
plt.rcParams["font.family"] = ["Liberation Sans", "DejaVu Sans"]
plt.rcParams["mathtext.fontset"] = "custom"
plt.rcParams["mathtext.rm"] = "Liberation Sans"
plt.rcParams["mathtext.it"] = "Liberation Sans:italic"

W, H = 1050, 1339
fig = plt.figure(figsize=(W / 100, H / 100), dpi=100)

def px_axes(x0, y0, x1, y1):
    return fig.add_axes([x0 / W, 1 - y1 / H, (x1 - x0) / W, (y1 - y0) / H])

def gray_spines(ax, bottom=True):
    sns.despine(ax=ax, bottom=not bottom)
    for s in ["left", "bottom"]:
        ax.spines[s].set_color("#555555")
        ax.spines[s].set_linewidth(1.1)
    ax.tick_params(axis="both", length=2, width=.7, color="#555555", labelsize=5, labelcolor="#333333", pad=1.5,
                   left=True, bottom=bottom, labelbottom=bottom)

# top overlay in pixel coordinates for labels and boxes
ov = fig.add_axes([0, 0, 1, 1], zorder=10)
ov.set_xlim(0, W)
ov.set_ylim(H, 0)
ov.axis("off")
ov.patch.set_alpha(0)

def label(x, y, s, size=11, color="black", ha="left", va="center", **kw):
    ov.text(x, y, s, fontsize=size, color=color, ha=ha, va=va, **kw)

for s, x, y in [("A", 11, 13), ("B", 9, 353), ("C", 571, 163), ("D", 10, 907), ("E", 411, 906)]:
    label(x, y, s, size=13, weight="bold", ha="center")

# A
rows = []
for pts, cl, cond in [(umap_c0, "0", "AAA"), (umap_c1, "1", "AAA"), (umap_c1_ctrl, "1", "Control"), (umap_c2, "2", "AAA"),
                      (umap_c2_ctrl, "2", "Control"), (umap_c3, "3", "AAA"), (umap_c3_ctrl, "3", "Control"), (umap_c4, "4", "AAA")]:
    for x, y in pts:
        rows.append((x, y, cl, cond))
umap = pd.DataFrame(rows, columns=["x", "y", "cluster", "cond"])
cond_pal = {"AAA": "#F8766D", "Control": "#00BFC4"}
clus_pal = {"0": "#F8766D", "1": "#A3A500", "2": "#00BF7D", "3": "#00B0F6", "4": "#E76BF3"}
for box, xlim, hue, pal in [((50.3, 38, 251, 289), (-13.5, 8.65), "cond", cond_pal),
                            ((332, 38, 551.7, 289), (-13.5, 8.78), "cluster", clus_pal)]:
    ax = px_axes(*box)
    sns.scatterplot(data=umap, x="x", y="y", hue=hue, palette=pal, s=3.5, linewidth=0, legend=False, ax=ax)
    ax.set_xlim(xlim)
    ax.set_ylim(-8.11, 6.17)
    ax.set_xticks([-10, -5, 0, 5])
    ax.set_yticks([-8, -4, 0, 4])
    ax.set_xlabel("")
    ax.set_ylabel("")
    gray_spines(ax)
    if hue == "cluster":
        for t, tx, ty in [("0", -3, 1.9), ("1", -.3, -4.3), ("2", 3.3, .1), ("3", -11.5, 2.1), ("4", 6.8, 2)]:
            ax.text(tx, ty, t, fontsize=4.5, ha="center", va="center", color="#333333")

ov.annotate("", xy=(27, 230), xytext=(27, 312), arrowprops=dict(arrowstyle="-|>", color="black", lw=1))
ov.annotate("", xy=(110, 312), xytext=(26.5, 312), arrowprops=dict(arrowstyle="-|>", color="black", lw=1))
label(117, 312, "UMAP_1", size=11.5)
label(27, 192, "UMAP_2", size=11.5, rotation=90, ha="center")
ov.scatter([254, 254], [153, 169], s=55, c=["#F8766D", "#00BFC4"], linewidths=0)
label(269, 153, "AAA", size=9.8)
label(269, 169, "Control", size=9.8)
for i, name in enumerate(cluster_names_a):
    ov.scatter([570], [44 + 16 * i], s=32, c=clus_pal[str(i)], linewidths=0)
    label(584, 49.5 + 16 * i, name, size=11.2, va="baseline")

# B
heat_cmap = LinearSegmentedColormap.from_list("heat", [(0, "#FFFDD8"), (.25, "#FFEE9E"), (.5, "#FFC060"), (.75, "#FF7C10"), (1, "#FF1010")])
bar_cmap = LinearSegmentedColormap.from_list("heatbar", [(0, "#FFFFE0"), (.25, "#FFFF90"), (.5, "#FFE800"), (.75, "#FFA800"), (1, "#FF0000")])
for g, (x0, x1) in enumerate([(135, 248.3), (248.3, 340), (340, 430)]):
    mat = np.array([[int(c) * .4 - 1 for c in r.split()[g]] for r in levels_b])
    ax = px_axes(x0, 355, x1, 877)
    sns.heatmap(mat, cmap=heat_cmap, vmin=-1, vmax=3, cbar=False, xticklabels=False, yticklabels=False, ax=ax)
    ax.set_xlabel("")
    ov.add_patch(plt.Rectangle((x0 + .5, 336), x1 - x0 - 1, 11, color=["#F8766D", "#A3A500", "#00BF7D"][g], lw=0))

ov.plot([340, 340], [355, 530], color="#999999", lw=.8)
ov.plot([248.5, 248.5], [745, 877], color="#999999", lw=.8)
ov.plot([430, 430], [355, 877], color="#BBBBBB", lw=1)

gene_colors_b = ["black"] * 11 + ["#96280F"] * 9 + ["#64A81E"] * 12 + ["#0E8A8A"] * 13 + ["#1A4FA8"] * 7 + ["#4B1E8C"] * 8
for i, g in enumerate(genes_b):
    label(132.5, 359.3 + i * 8.71, g, size=6.9, color=gene_colors_b[i], ha="right", weight="bold", style="italic")

for x0, y0, x1, y1 in [(136, 356, 248, 530), (249, 531, 340, 745), (341, 747, 429.5, 877)]:
    ov.add_patch(plt.Rectangle((x0, y0), x1 - x0, y1 - y0, fill=False, ec="#1447E6", lw=2.1))

for s, x, y, c in [("Apoptotic cell", 188, 396, "black"), ("clearance", 190, 412, "black"), ("Lipid storage", 190, 486, "#96280F"),
                   ("Mononuclear", 296, 562, "#6CC24A"), ("cell", 296, 578, "#6CC24A"), ("migration", 296, 594, "#6CC24A"),
                   ("Tissue", 296, 678, "#0E9A9A"), ("remodeling", 296, 694, "#0E9A9A"),
                   ("Regulation of", 387, 757, "#1447A8"), ("cytokine", 387, 772, "#1447A8"), ("biosynthetic", 387, 788, "#1447A8"), ("process", 387, 804, "#1447A8"),
                   ("Antigen", 386, 821, "#4B1E8C"), ("processing", 386, 837, "#4B1E8C"), ("and", 386, 853, "#4B1E8C"), ("presentation", 386, 869, "#4B1E8C")]:
    label(x, y, s, size=9, color=c, ha="center", weight="bold")

ax = px_axes(46, 399, 67, 497)
ax.imshow(np.linspace(3.15, -.62, 200).reshape(-1, 1), cmap=bar_cmap, vmin=-1, vmax=3, aspect="auto")
ax.axis("off")
for v, y in [(3, 402.7), (2, 428.7), (1, 454.7), (0, 480.7)]:
    ov.plot([46, 50], [y, y], color="white", lw=.6)
    ov.plot([63, 67], [y, y], color="white", lw=.6)
for v, y in [("3", 402.7), ("2", 428.7), ("1", 454.7), ("0", 480.7), ("\u22121", 506.7)]:
    label(73, y, v, size=7.5, color="#222222")
label(14, 435, "Log-normalized", size=11.5, rotation=90, ha="center")
label(33, 435, "expression", size=11.5, rotation=90, ha="center")
label(29, 544, "Cluster", size=11)
for t, y, c in [("0", 568.5, "#F8766D"), ("1", 590.5, "#A3A500"), ("2", 612.5, "#00BF7D")]:
    ov.scatter([56], [y], s=16, c=c, linewidths=0)
    label(74, y, t, size=7.5, color="#222222")

# C
c_cmap = LinearSegmentedColormap.from_list("c", ["#4575B4", "#91BFDB", "#E0F3F8", "#FFFFBF", "#FEE090", "#FC8D59", "#D73027"])
ax = px_axes(654, 163, 720.5, 842.5)
sns.heatmap(pd.DataFrame(values_c, index=genes_c), cmap=c_cmap, vmin=-1.75, vmax=1.75, cbar=False,
            linewidths=.6, linecolor="white", xticklabels=False, yticklabels=False, ax=ax)
ax.set_xlabel("")
ax = px_axes(605, 241.5, 616, 408)
ax.imshow(np.linspace(1.95, -1.95, 200).reshape(-1, 1), cmap=c_cmap, vmin=-1.95, vmax=1.95, aspect="auto")
ax.axis("off")
for v, y in [("1", 282.5), ("0", 325), ("\u22121", 368)]:
    label(621, y, v, size=7.8, color="#222222")
label(563, 199, "C", size=11.5, color="#1447E6", weight="bold")
label(574.5, 199, ": Control", size=11.5, weight="bold")
label(563, 219, "A", size=11.5, color="#C8201E", weight="bold")
label(574.5, 219, ": AAA", size=11.5, weight="bold")

row = 0
for n, col in zip(group_sizes_c, group_colors_c):
    for _ in range(n):
        label(725, 169 + row * 11.14, genes_c[row], size=8, color=col, weight="bold", style="italic")
        row += 1
for y0, y1 in [(168, 258), (269, 427), (437, 603), (614, 750), (758, 814), (824, 840)]:
    ov.plot([781, 781], [y0, y1], color="#222222", lw=1.1)
for s, x, y, c in [("NADH dehydrogenase", 804, 207, "#EFB041"), ("complex assembly", 804, 226, "#EFB041"), ("ATP metabolic process", 804, 345, "#E63A1F"),
                   ("Positive regulation of", 804, 502, "#8B2F3F"), ("cytokine production", 804, 521, "#8B2F3F"), ("Tissue remodeling", 804, 677, "#9A2A96"),
                   ("Positive regulation of", 805, 778, "#6FB07A"), ("cytokine production", 805, 797, "#6FB07A"), ("Apoptotic cell clearance", 803, 831, "#2F5F2F")]:
    label(x, y, s, size=13.6, color=c)
for i, s in enumerate("CACACA"):
    label(660 + i * 11, 850, s, size=8.5, color="#1447E6" if s == "C" else "#C8201E", ha="center", weight="bold")
for i, (t, c) in enumerate([("0", "#F8766D"), ("1", "#A3A500"), ("2", "#00BF7D")]):
    ov.plot([655 + i * 22.2, 675 + i * 22.2], [858, 858], color="black", lw=1.1)
    label(665 + i * 22.3, 869.5, t, size=11, color=c, ha="center", weight="bold")

# D
rows = []
for pts, cl in [(traj_blue, "2"), (traj_green, "1"), (traj_red, "0")]:
    for x, y in pts:
        rows.append((x, y, cl))
traj = pd.DataFrame(rows, columns=["c1", "c2", "cluster"])
traj_pal = {"0": "#F8766D", "1": "#00BA38", "2": "#619CFF"}
ax = px_axes(45, 943, 390.7, 1254)
for seg in [tree_upper, tree_right]:
    sns.lineplot(x=[p[0] for p in seg], y=[p[1] for p in seg], color="black", lw=1.2, sort=False, ax=ax, zorder=1)
sns.scatterplot(data=traj, x="c1", y="c2", hue="cluster", palette=traj_pal, s=15, linewidth=0, legend=False, ax=ax, zorder=2)
for seg in [tree_lower, tree_stub]:
    sns.lineplot(x=[p[0] for p in seg], y=[p[1] for p in seg], color="black", lw=1.3, sort=False, ax=ax, zorder=3)
for x, y, t in tree_nodes:
    ax.scatter([x], [y], s=70, c="black", zorder=4, linewidths=0)
    ax.text(x, y, t, color="white", fontsize=6.5, ha="center", va="center", zorder=5)
ax.set_xlim(-8.76, 9.16)
ax.set_ylim(-9.14, 5.96)
ax.set_xticks([-5, 0, 5])
ax.set_yticks([-5, 0, 5])
ax.set_xlabel("")
ax.set_ylabel("")
gray_spines(ax)
label(213, 1281, "Component 1", size=13.5, ha="center")
label(21, 1090, "Component 2", size=13.5, rotation=90, ha="center")

# E
colors_e = {0: "#F8766D", 1: "#00BA38", 2: "#619CFF"}
facets = [("Cd36", rows_cd36, cd36_solid, cd36_dash, 916, (.0887, 4.76)),
          ("Klf4", rows_klf4, klf4_solid, klf4_dash, 1019.3, (.0842, 6.2)),
          ("Pgam1", rows_pgam1, pgam1_solid, pgam1_dash, 1122.7, (.0835, 7.5)),
          ("Pkm", rows_pkm, pkm_solid, pkm_dash, 1226, (.083, 8.9))]
for gene, gene_rows, solid, dash, top, ylim in facets:
    ax = px_axes(459, top, 806.7, top + 83.3)
    recs = [(t, .1, 0) for t in zero_red] + [(t, .1, 1) for t in zero_green] + [(t, .1, 2) for t in zero_blue]
    for level, cl, ts in gene_rows:
        recs += [(t, level, cl) for t in ts]
    df = pd.DataFrame(recs, columns=["t", "expr", "cluster"])
    sns.scatterplot(data=df, x="t", y="expr", hue="cluster", palette=colors_e, s=5, linewidth=0, legend=False, ax=ax, zorder=2)
    sns.lineplot(x=curve_t, y=solid, color="black", lw=1.1, ax=ax, zorder=3)
    sns.lineplot(x=curve_t, y=dash, color="black", lw=1.1, linestyle=(0, (1.5, 1.5)), ax=ax, zorder=3)
    ax.set_yscale("log")
    ax.set_xlim(-4.96, 104.9)
    ax.set_ylim(ylim)
    ax.set_yticks([.1, .3, 1, 3])
    ax.set_yticklabels(["0.1", "0.3", "1.0", "3.0"])
    ax.minorticks_off()
    ax.set_xticks([0, 25, 50, 75, 100])
    ax.set_xlabel("")
    ax.set_ylabel("")
    gray_spines(ax, bottom=gene == "Pkm")
    ax.tick_params(axis="both", labelsize=6)
    label(630, top - 9.5, gene, size=11, ha="center", style="italic")

label(422, 1093, "Log-normalized expression", size=11.3, rotation=90, ha="center")
label(636, 1329, "Pseudotime", size=11.3, ha="center")
label(806, 988, "Cluster", size=13.5)
for i, s in enumerate(["0: Osteoclast-like macrophage", "1: M2-like macrophage", "2: M1-like macrophage"]):
    ov.scatter([820], [1020 + i * 30], s=13, c=colors_e[i], linewidths=0)
    label(832, 1020 + i * 30, s, size=11.4)
label(834, 1143, "Branch", size=13.5)
ov.plot([836, 860], [1177, 1177], color="black", lw=1.3)
ov.plot([836, 860], [1207, 1207], color="black", lw=1.3, linestyle=(0, (2, 1.5)))
label(872, 1177, "Y_1", size=11)
label(872, 1207, "Y_85", size=11)

fig.savefig("out.png", dpi=100)
